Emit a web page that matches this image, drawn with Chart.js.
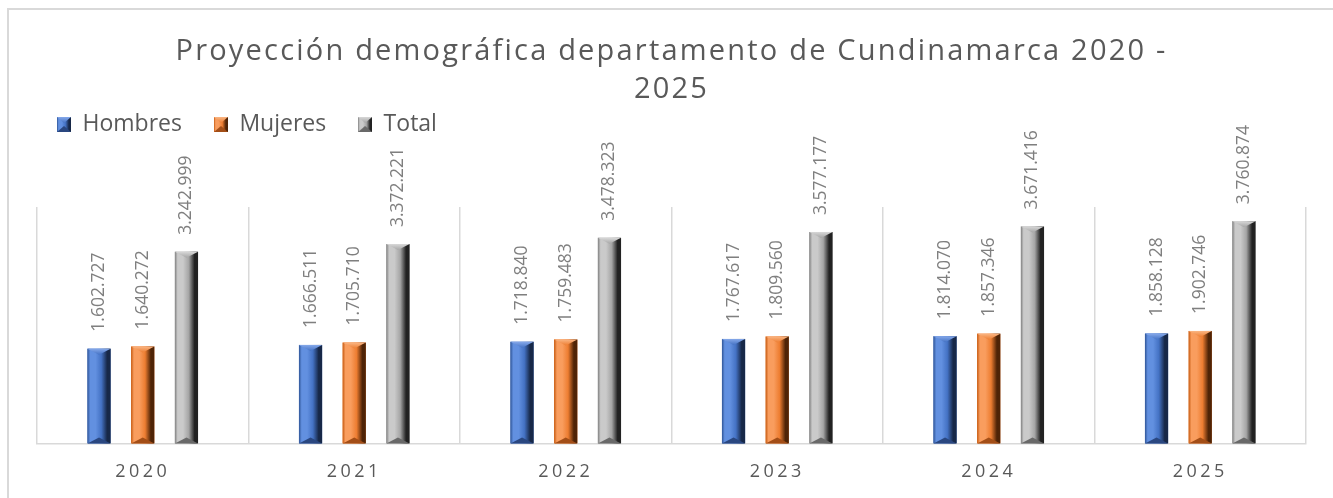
<!DOCTYPE html>
<html>
<head>
<meta charset="utf-8">
<script src="https://cdn.jsdelivr.net/npm/chart.js@4.4.1/dist/chart.umd.min.js"></script>
<style>
  body { margin: 0; background: #fff; }
  #frame { position: absolute; left: 7px; top: 8px; width: 1330px; height: 495px;
           border-left: 2px solid #d9d9d9; border-top: 2px solid #d9d9d9; }
  #demoChart { position: absolute; left: 0; top: 0; }
</style>
</head>
<body>
<div id="frame"></div>
<canvas id="demoChart" width="1333" height="498"></canvas>
<script>
const years = ['2020', '2021', '2022', '2023', '2024', '2025'];
const hombres = [1602727, 1666511, 1718840, 1767617, 1814070, 1858128];
const mujeres = [1640272, 1705710, 1759483, 1809560, 1857346, 1902746];
const total = [3242999, 3372221, 3478323, 3577177, 3671416, 3760874];
const titleLines = ['Proyección demográfica departamento de Cundinamarca 2020 -', '2025'];

// base, light, dark, top bevel, bottom bevel, left edge
const palettes = [
    ['#4472c4', '#6290e0', '#172848', '#86a9ea', '#2a4780', '#2f5597'],
    ['#ed7d31', '#f99d5e', '#4f2407', '#fab684', '#a34e17', '#c55a11'],
    ['#a5a5a5', '#cacaca', '#222222', '#d8d8d8', '#696969', '#808080']
];

const fmt = n => String(n).replace(/\B(?=(\d{3})+(?!\d))/g, '.');

function bevelBar(ctx, x0, x1, top, bottom, pal) {
    const w = x1 - x0;
    const xc = (x0 + x1) / 2;
    const b = Math.min(6, w / 2, (bottom - top) / 2);
    const g = ctx.createLinearGradient(x0, 0, x1, 0);
    g.addColorStop(0, pal[5]);
    g.addColorStop(0.12, pal[1]);
    g.addColorStop(0.35, pal[1]);
    g.addColorStop(0.6, pal[0]);
    g.addColorStop(0.85, pal[2]);
    g.addColorStop(1, pal[2]);
    ctx.fillStyle = g;
    ctx.fillRect(x0, top, w, bottom - top);
    // top bevel
    const gt = ctx.createLinearGradient(0, top, 0, top + b);
    gt.addColorStop(0, pal[3]);
    gt.addColorStop(1, pal[0]);
    ctx.fillStyle = gt;
    ctx.beginPath();
    ctx.moveTo(x0, top); ctx.lineTo(x1, top); ctx.lineTo(xc, top + b); ctx.closePath();
    ctx.fill();
    // bottom bevel
    ctx.fillStyle = pal[4];
    ctx.beginPath();
    ctx.moveTo(x0, bottom); ctx.lineTo(x1, bottom); ctx.lineTo(xc, bottom - b); ctx.closePath();
    ctx.fill();
}

function swatch(pal) {
    const c = document.createElement('canvas');
    c.width = 14; c.height = 15;
    bevelBar(c.getContext('2d'), 0, 14, 0, 15, pal);
    return c;
}
const swatches = palettes.map(swatch);

// wraps a draw method so its text gets letter spacing
function spaced(obj, name, spacing) {
    if (!obj || obj['_sp_' + name]) return;
    const orig = obj[name];
    obj[name] = function () {
        const c = this.ctx;
        c.letterSpacing = spacing;
        orig.apply(this, arguments);
        c.letterSpacing = '0px';
    };
    obj['_sp_' + name] = true;
}

const bevelPlugin = {
    id: 'bevel',
    beforeInit(chart) {
        const fit = chart.legend.fit;
        chart.legend.fit = function () {
            fit.bind(chart.legend)();
            this.height += 61;
        };
    },
    afterLayout(chart) {
        spaced(chart.titleBlock, 'draw', '2.2px');
        spaced(chart.scales.x, 'drawLabels', '3.5px');
    },
    afterDatasetsDraw(chart) {
        const ctx = chart.ctx;
        ctx.save();
        ctx.letterSpacing = '0px';
        chart.data.datasets.forEach((ds, i) => {
            const meta = chart.getDatasetMeta(i);
            meta.data.forEach((el, j) => {
                const p = el.getProps(['x', 'y', 'base', 'width'], true);
                bevelBar(ctx, p.x - p.width / 2, p.x + p.width / 2, p.y, p.base, palettes[i]);
                ctx.save();
                ctx.translate(p.x, p.y - 17);
                ctx.rotate(-Math.PI / 2);
                ctx.font = '17.5px "Open Sans"';
                ctx.fillStyle = '#7f7f7f';
                ctx.textAlign = 'left';
                ctx.textBaseline = 'middle';
                ctx.fillText(fmt(ds.data[j]), 0, 0);
                ctx.restore();
            });
        });
        ctx.restore();
    }
};

const ctx = document.querySelector('#demoChart').getContext('2d');

new Chart(ctx, {
    type: 'bar',
    data: {
        labels: years,
        datasets: [
            { label: 'Hombres', data: hombres, backgroundColor: palettes[0][0] },
            { label: 'Mujeres', data: mujeres, backgroundColor: palettes[1][0] },
            { label: 'Total', data: total, backgroundColor: palettes[2][0] }
        ]
    },
    options: {
        responsive: false,
        animation: false,
        categoryPercentage: 0.62,
        barPercentage: 0.53,
        layout: { padding: { top: 0, left: 37, right: 27, bottom: -3 } },
        scales: {
            y: { display: false, min: 0, max: 4000000 },
            x: {
                grid: { color: '#d9d9d9', lineWidth: 1.5, drawTicks: false },
                border: { color: '#d9d9d9', width: 1.5 },
                ticks: {
                    color: '#595959',
                    padding: 18,
                    font: { family: 'Open Sans', size: 18 }
                }
            }
        },
        plugins: {
            title: {
                display: true,
                text: titleLines,
                color: '#595959',
                font: { family: 'Open Sans', size: 29, weight: 'normal', lineHeight: 38 / 29 },
                padding: { top: 33, bottom: -16 }
            },
            legend: {
                position: 'top',
                align: 'start',
                labels: {
                    usePointStyle: true,
                    boxWidth: 14,
                    boxHeight: 15,
                    padding: 20,
                    color: '#595959',
                    font: { family: 'Open Sans', size: 23 },
                    generateLabels(chart) {
                        return Chart.defaults.plugins.legend.labels.generateLabels(chart).map(item => {
                            item.pointStyle = swatches[item.datasetIndex];
                            item.text = item.text + '  ';
                            return item;
                        });
                    }
                }
            },
            tooltip: { enabled: false }
        }
    },
    plugins: [bevelPlugin]
});
</script>
</body>
</html>
